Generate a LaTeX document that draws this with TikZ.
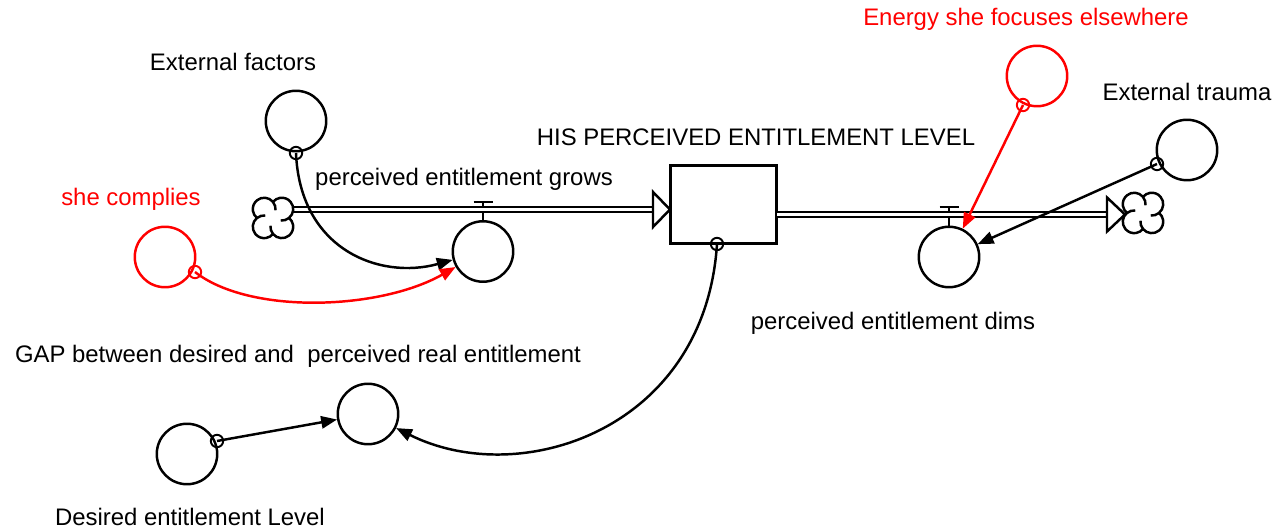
\documentclass[tikz,border=0pt]{standalone}
\usepackage{fontspec}
\setmainfont{Liberation Sans}
\usetikzlibrary{arrows.meta,calc}
\begin{document}
\begin{tikzpicture}[x=0.5674pt,y=-0.5674pt,
  lw/.style={line width=1.4pt},
  aux/.style={circle,draw,lw,minimum size=34.3pt,inner sep=0pt,fill=white},
  tap/.style={circle,draw,line width=1.1pt,minimum size=7pt,inner sep=0pt},
  lbl/.style={anchor=base,inner sep=0pt,font=\fontsize{13.56pt}{16pt}\selectfont},
  link/.style={lw,-{Triangle[length=9pt,width=7pt]}},
  pipe/.style={double,double distance=1.5pt,line width=1.4pt},
  cloud/.pic={
    \draw[lw,fill=white] (0,15.98) arc[start angle=140.6,end angle=-50.6,radius=11.4]
      arc[start angle=50.6,end angle=-140.6,radius=11.4]
      arc[start angle=-39.4,end angle=-230.6,radius=11.4]
      arc[start angle=-129.4,end angle=-320.6,radius=11.4] -- cycle;
    \draw[lw] (0,15.98) arc[start angle=140.6,end angle=185,radius=11.4];
    \draw[lw] (15.98,0) arc[start angle=50.6,end angle=95,radius=11.4];
    \draw[lw] (0,-15.98) arc[start angle=-39.4,end angle=5,radius=11.4];
    \draw[lw] (-15.98,0) arc[start angle=-129.4,end angle=-85,radius=11.4];
  }
]
\useasboundingbox[fill=white] (0,0) rectangle (1282,531);

% labels
\node[lbl] (lext) at (233,71) {External factors};
\node[lbl,text=red] (lcomp) at (131,206) {she complies};
\node[lbl] (lgrow) at (464,186) {perceived entitlement grows};
\node[lbl] (lstock) at (756,146) {HIS PERCEIVED ENTITLEMENT LEVEL};
\node[lbl,text=red] (lenergy) at (1026,26) {Energy she focuses elsewhere};
\node[lbl] (ltrauma) at (1187,101) {External trauma};
\node[lbl] (ldims) at (893,330) {perceived entitlement dims};
\node[lbl] (lgap) at (298,363) {GAP between desired and\ \ perceived real entitlement};
\node[lbl] (ldes) at (190,526) {Desired entitlement Level};

% clouds
\coordinate (cloudL) at (273,218);
\coordinate (cloudR) at (1143,213);

% pipes
\coordinate (pinS) at (292,209.5);
\coordinate (pinE) at (653,209.5);
\coordinate (poutS) at (777,214.5);
\coordinate (poutE) at (1107,214.5);

% stock and flows
\node[draw,lw,fill=white,minimum width=60.1pt,minimum height=44.3pt,inner sep=0pt] (stock) at (723.5,204.5) {};
\node[aux] (flowin) at (483,251.5) {};
\node[aux] (flowout) at (949,257) {};

% valves
\coordinate (vinT) at (483,202);
\coordinate (voutT) at (949,207);
\draw[lw] (vinT) -- (flowin.north);
\draw[lw] ($(vinT)+(-9.5,0)$) -- ($(vinT)+(9.5,0)$);
\draw[lw] (voutT) -- (flowout.north);
\draw[lw] ($(voutT)+(-9.5,0)$) -- ($(voutT)+(9.5,0)$);

\draw[pipe] (pinS) -- (pinE);
\draw[lw,fill=white,shift={(pinE)}] (0,-17.5) -- (17,0) -- (0,17.5) -- cycle;
\draw[pipe] (poutS) -- (poutE);
\draw[lw,fill=white,shift={(poutE)}] (0,-17) -- (18,0) -- (0,17) -- cycle;
\pic at (cloudL) {cloud};
\pic at (cloudR) {cloud};

% auxiliaries
\node[aux] (ext) at (296,121) {};
\node[aux,draw=red] (comp) at (165,257) {};
\node[aux,draw=red] (energy) at (1037,76) {};
\node[aux] (trauma) at (1187,150) {};
\node[aux] (gap) at (368,414) {};
\node[aux] (des) at (187,454) {};

% taps
\node[tap] (exttap) at (296,153) {};
\node[tap,draw=red] (comptap) at (195,272) {};
\node[tap,draw=red] (energytap) at (1023,105) {};
\node[tap] (traumatap) at (1157,164) {};
\node[tap] (destap) at (217,441) {};
\node[tap] (stocktap) at (717,244) {};

% links
\draw[link] (exttap.center) .. controls (300,250) and (380,280) .. (flowin);
\draw[link,red] (comptap.center) .. controls (250,315) and (380,310) .. (flowin);
\draw[link] (stocktap.center) .. controls (705,430) and (520,490) .. (gap);
\draw[link,red] (energytap.center) -- (flowout);
\draw[link] (traumatap.center) -- (flowout);
\draw[link] (destap.center) -- (gap);
\end{tikzpicture}
\end{document}
